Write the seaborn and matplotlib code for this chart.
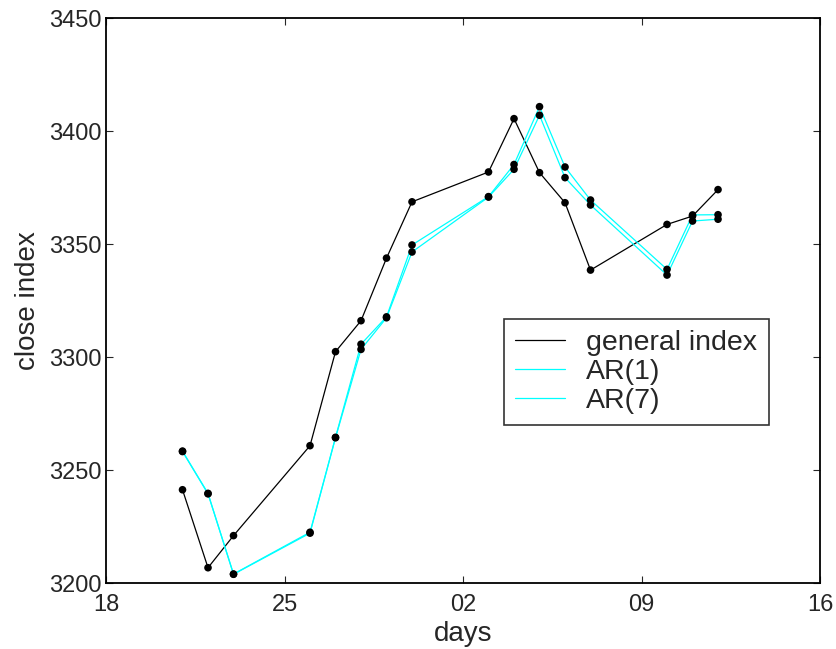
import matplotlib
matplotlib.use("Agg")
import matplotlib.pyplot as plt
import seaborn as sns
import pandas as pd

# trading days, counted from the 18th
days = [3, 4, 5, 8, 9, 10, 11, 12, 15, 16, 17, 18, 19, 22, 23, 24]

general_index = [3241.4, 3206.9, 3221.1, 3260.9, 3302.5, 3316.2, 3343.9, 3368.8,
                 3382.0, 3405.6, 3381.7, 3368.4, 3338.6, 3358.8, 3362.5, 3374.2]
ar1 = [3258.5, 3239.8, 3204.1, 3222.6, 3264.6, 3305.8, 3317.9, 3349.7,
       3371.1, 3385.3, 3410.9, 3384.2, 3369.6, 3338.9, 3363.0, 3363.1]
ar7 = [3258.3, 3239.6, 3204.0, 3222.2, 3264.4, 3303.5, 3317.5, 3346.6,
       3370.9, 3383.2, 3407.1, 3379.5, 3367.4, 3336.4, 3360.3, 3361.1]

tick_days = [0, 7, 14, 21, 28]
tick_labels = ["18", "25", "02", "09", "16"]
y_ticks = [3200, 3250, 3300, 3350, 3400, 3450]

sns.set_style("white")
plt.rcParams["font.family"] = ["Liberation Sans", "DejaVu Sans"]

df = pd.DataFrame({"day": days, "general index": general_index,
                   "AR(1)": ar1, "AR(7)": ar7})

fig = plt.figure(figsize=(8.36, 6.49), dpi=100)
ax = fig.add_axes([0.1268, 0.1012, 0.8541, 0.8706])

series = [("general index", "black"), ("AR(1)", "#00ffff"), ("AR(7)", "#00ffff")]
for name, color in series:
    sns.lineplot(data=df, x="day", y=name, ax=ax, color=color, lw=0.9,
                 label=name, estimator=None, sort=False)
for name, _ in series:
    sns.scatterplot(data=df, x="day", y=name, ax=ax, color="black", s=30,
                    edgecolor="none", legend=False, zorder=3)

ax.set_xlim(0, 28)
ax.set_ylim(3200, 3450)
ax.set_xticks(tick_days)
ax.set_xticklabels(tick_labels)
ax.set_yticks(y_ticks)
ax.tick_params(direction="in", length=5, width=0.8, labelsize=17,
               top=True, right=True, bottom=True, left=True)
ax.tick_params(axis="x", pad=8)
ax.tick_params(axis="y", pad=3)
ax.set_xlabel("days", fontsize=20, labelpad=3)
ax.set_ylabel("close index", fontsize=20, labelpad=6)
for sp in ax.spines.values():
    sp.set_color("black")
    sp.set_linewidth(1.3)

leg = ax.legend(loc="upper left", bbox_to_anchor=(0.557, 0.468),
                fontsize=20.5, frameon=True, fancybox=False, edgecolor="black",
                handlelength=1.75, handletextpad=0.75, labelspacing=0.1,
                borderpad=0.4, borderaxespad=0.0)
leg.get_frame().set_linewidth(1.2)
for line in leg.get_lines():
    line.set_linewidth(0.9)

fig.savefig("out.png", dpi=100)
